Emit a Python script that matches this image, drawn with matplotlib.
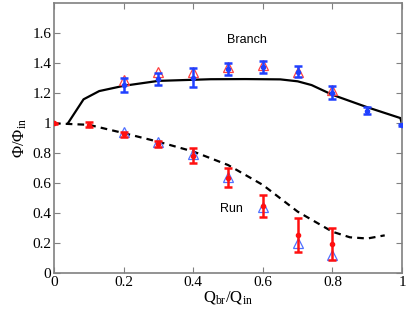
import matplotlib
matplotlib.use("Agg")
import matplotlib.pyplot as plt

plt.rcParams["font.family"] = "serif"
plt.rcParams["font.serif"] = ["Liberation Serif", "DejaVu Serif"]
plt.rcParams["mathtext.fontset"] = "custom"
plt.rcParams["mathtext.rm"] = "Liberation Serif"
plt.rcParams["mathtext.it"] = "Liberation Serif:italic"

# branch: measured (blue, with error) and simulated (red triangles)
br_x = [0.2, 0.3, 0.4, 0.5, 0.6, 0.7, 0.8, 0.9, 1.0]
br_y = [1.257, 1.296, 1.305, 1.361, 1.376, 1.345, 1.205, 1.085, 0.99]
br_err = [0.047, 0.041, 0.065, 0.039, 0.039, 0.039, 0.045, 0.026, 0.005]
br_tri_x = [0.2, 0.3, 0.4, 0.5, 0.6, 0.7, 0.8]
br_tri_y = [1.292, 1.342, 1.345, 1.377, 1.387, 1.344, 1.225]

# run: measured (red, with error) and simulated (blue triangles)
run_x = [0.0, 0.1, 0.2, 0.3, 0.4, 0.5, 0.6, 0.7, 0.8]
run_y = [1.0, 0.99, 0.928, 0.863, 0.785, 0.638, 0.45, 0.255, 0.195]
run_err = [0.004, 0.016, 0.017, 0.019, 0.05, 0.062, 0.072, 0.112, 0.105]
run_tri_x = [0.2, 0.3, 0.4, 0.5, 0.6, 0.7, 0.8]
run_tri_y = [0.945, 0.877, 0.793, 0.644, 0.44, 0.2, 0.122]

# model curves
branch_curve_x = [0.04, 0.085, 0.13, 0.2, 0.3, 0.45, 0.55, 0.65, 0.7, 0.74, 0.8, 0.9, 0.995, 1.0]
branch_curve_y = [1.0, 1.16, 1.215, 1.25, 1.283, 1.294, 1.295, 1.293, 1.28, 1.255, 1.19, 1.107, 1.035, 0.99]
run_curve_x = [0.0, 0.1, 0.2, 0.3, 0.4, 0.5, 0.6, 0.7, 0.8, 0.85, 0.9, 0.95]
run_curve_y = [1.0, 0.99, 0.935, 0.877, 0.812, 0.722, 0.589, 0.411, 0.277, 0.24, 0.232, 0.253]

fig = plt.figure(figsize=(4.15, 3.15), dpi=100)
ax = fig.add_axes([0.130, 0.1324, 0.839, 0.857])

ax.plot(branch_curve_x, branch_curve_y, color="black", lw=1.6, zorder=2)
ax.plot(run_curve_x, run_curve_y, color="black", lw=1.6, ls=(0, (3, 2.3)), zorder=2)

ax.plot(br_tri_x, br_tri_y, linestyle="none", marker="^", mfc="none",
        mec="#ff4040", ms=7, mew=0.9, zorder=3)
ax.errorbar(br_x, br_y, yerr=br_err, fmt="o", color="#2040ff", ms=3,
            elinewidth=1.8, capsize=3, capthick=1.8, zorder=4)

ax.plot(run_tri_x, run_tri_y, linestyle="none", marker="^", mfc="none",
        mec="#5070ff", ms=7, mew=0.9, zorder=3)
ax.errorbar(run_x, run_y, yerr=run_err, fmt="o", color="#ff1010", ms=3,
            elinewidth=1.8, capsize=3, capthick=1.8, zorder=4)

ax.text(0.555, 1.555, "Branch", family="Liberation Sans", fontsize=9, ha="center", va="center")
ax.text(0.51, 0.43, "Run", family="Liberation Sans", fontsize=9, ha="center", va="center")

ax.set_xlim(0, 1)
ax.set_ylim(0, 1.8)
ax.set_xticks([0, 0.2, 0.4, 0.6, 0.8, 1.0])
ax.set_xticklabels(["0", "0.2", "0.4", "0.6", "0.8", "1"], family="Liberation Serif")
ax.set_yticks([0, 0.2, 0.4, 0.6, 0.8, 1.0, 1.2, 1.4, 1.6])
ax.set_yticklabels(["0", "0.2", "0.4", "0.6", "0.8", "1", "1.2", "1.4", "1.6"], family="Liberation Serif")
ax.tick_params(direction="in", top=True, right=True, length=4, width=0.8,
               color="#808080", labelsize=11, pad=2)
for s in ax.spines.values():
    s.set_color("#808080")
    s.set_linewidth(1.2)

ax.set_xlabel(r"$\mathrm{Q_{br}/Q_{in}}$", fontsize=12, labelpad=0)
ax.set_ylabel(r"$\mathrm{\Phi/\Phi_{in}}$", fontsize=12, labelpad=2)

fig.savefig("out.png", dpi=100)
